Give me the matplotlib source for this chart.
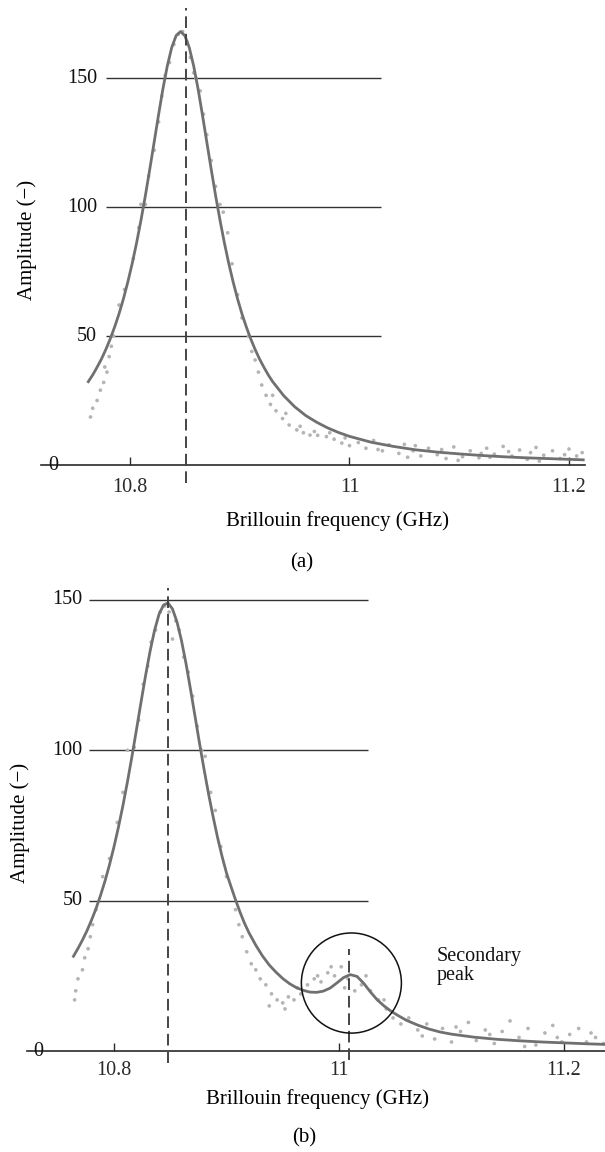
import matplotlib
matplotlib.use("Agg")
import matplotlib.pyplot as plt
from matplotlib.patches import Ellipse

plt.rcParams['font.family'] = ['Liberation Serif', 'DejaVu Serif']

# ---------------- data ----------------
xticks = [10.8, 11.0, 11.2]
xtick_labels = ['10.8', '11', '11.2']
yticks = [50, 100, 150]
ytick_labels = ['50', '100', '150']

# panel (a): fitted curve
fit_a_x = [10.762, 10.766, 10.770, 10.774, 10.778, 10.782, 10.786, 10.790, 10.794, 10.798,
           10.802, 10.806, 10.810, 10.814, 10.818, 10.822, 10.826, 10.830, 10.834, 10.838,
           10.842, 10.846, 10.850, 10.854, 10.858, 10.862, 10.866, 10.870, 10.874, 10.878,
           10.882, 10.886, 10.890, 10.894, 10.898, 10.902, 10.906, 10.910, 10.914, 10.918,
           10.922, 10.926, 10.930, 10.940, 10.950, 10.960, 10.970, 10.980, 10.990, 11.000,
           11.020, 11.040, 11.060, 11.080, 11.100, 11.120, 11.140, 11.160, 11.180, 11.200,
           11.213]
fit_a_y = [32.3, 34.9, 37.9, 41.1, 44.8, 48.9, 53.5, 58.6, 64.4, 70.9,
           78.1, 86.1, 94.9, 104.4, 114.6, 125.1, 135.7, 145.8, 154.7, 161.8,
           166.4, 168.0, 166.4, 161.8, 154.7, 145.8, 135.7, 125.1, 114.6, 104.4,
           94.9, 86.1, 78.1, 70.9, 64.4, 58.6, 53.5, 48.9, 44.8, 41.1,
           37.9, 34.9, 32.3, 26.9, 22.6, 19.2, 16.6, 14.4, 12.6, 11.1,
           8.8, 7.2, 5.9, 5.0, 4.3, 3.7, 3.2, 2.8, 2.5, 2.2,
           2.0]
# panel (a): measured points
dots_a_x = [10.790, 10.795, 10.803, 10.808, 10.810, 10.814, 10.817, 10.822, 10.826, 10.829,
            10.832, 10.836, 10.840, 10.844, 10.848, 10.852, 10.855, 10.858, 10.860, 10.864,
            10.867, 10.870, 10.874, 10.878, 10.882, 10.885, 10.889, 10.893, 10.898, 10.902,
            10.785, 10.783, 10.781, 10.779, 10.777, 10.776, 10.773, 10.770, 10.766, 10.764,
            10.908, 10.911, 10.914, 10.917, 10.920, 10.924, 10.928, 10.933, 10.939, 10.945,
            10.952, 10.958, 10.964, 10.971, 10.979, 10.986, 10.993, 11.000,
            10.930, 10.942, 10.955, 10.968, 10.982, 10.996,
            11.008, 11.015, 11.022, 11.030, 11.036, 11.045, 11.050, 11.058, 11.060, 11.065,
            11.072, 11.080, 11.088, 11.095, 11.103, 11.110, 11.118, 11.120, 11.125, 11.132,
            11.140, 11.148, 11.155, 11.162, 11.165, 11.170, 11.177, 11.185, 11.192, 11.200,
            11.207, 11.212, 11.026, 11.053, 11.084, 11.099, 11.128, 11.145, 11.173, 11.196]
dots_a_y = [62, 68, 80, 92, 101, 101, 112, 122, 133, 143,
            151, 156, 163, 167, 168, 164, 158, 152, 150, 145,
            136, 128, 118, 108, 101, 98, 90, 78, 66, 57,
            50, 46, 42, 36, 38, 32, 29, 25, 22, 18.6,
            50, 44, 40.7, 36, 31, 27, 23.5, 21, 18, 15.5,
            13.6, 12.5, 11.6, 11.5, 11, 10, 8.5, 7.5,
            27, 20, 15, 13, 12.5, 10.5,
            8.7, 6.5, 9.5, 5.5, 7.8, 4.5, 8.0, 5.5, 7.5, 3.5,
            6.5, 4.0, 2.5, 7.0, 3.2, 5.5, 2.8, 4.5, 6.5, 4.2,
            7.2, 3.5, 5.8, 2.2, 4.8, 6.8, 3.8, 5.5, 2.5, 6.2,
            3.5, 4.8, 6.0, 3.0, 6.0, 1.8, 3.0, 5.2, 1.5, 4.0]
peak_a = 10.851

# panel (b): fitted curve
fit_b_x = [10.764, 10.768, 10.772, 10.776, 10.780, 10.784, 10.788, 10.792, 10.796, 10.800,
           10.804, 10.808, 10.812, 10.816, 10.820, 10.824, 10.828, 10.832, 10.836, 10.840,
           10.844, 10.848, 10.852, 10.856, 10.860, 10.864, 10.868, 10.872, 10.876, 10.880,
           10.884, 10.888, 10.892, 10.896, 10.900, 10.904, 10.908, 10.912, 10.916, 10.920,
           10.926, 10.932, 10.938, 10.944, 10.950, 10.956, 10.962, 10.968, 10.974, 10.980,
           10.986, 10.992, 10.998, 11.004, 11.010, 11.016, 11.022, 11.028, 11.034, 11.040,
           11.046, 11.052, 11.060, 11.070, 11.080, 11.090, 11.100, 11.120, 11.140, 11.160,
           11.180, 11.200, 11.220, 11.236]
fit_b_y = [31.5, 34.1, 36.9, 40.0, 43.5, 47.3, 51.7, 56.5, 61.9, 67.9,
           74.5, 81.7, 89.6, 98.0, 106.9, 115.9, 124.7, 132.8, 139.8, 145.2,
           148.3, 149.0, 147.0, 142.7, 136.5, 128.9, 120.3, 111.4, 102.4, 93.8,
           85.6, 78.1, 71.1, 64.8, 59.2, 54.7, 50.3, 46.2, 42.5, 39.3,
           35.2, 31.6, 28.6, 26.2, 24.1, 22.4, 21.1, 20.2, 19.6, 19.5,
           19.9, 20.9, 22.6, 24.4, 25.4, 24.8, 22.5, 19.6, 17.0, 15.0,
           13.3, 11.9, 10.2, 8.6, 7.3, 6.3, 5.6, 4.6, 3.9, 3.4,
           3.0, 2.7, 2.4, 2.2]
# panel (b): measured points
dots_b_x = [10.790, 10.796, 10.803, 10.808, 10.812, 10.818, 10.822, 10.826, 10.830, 10.833,
            10.837, 10.841, 10.845, 10.849, 10.852, 10.855, 10.858, 10.862, 10.866, 10.870,
            10.874, 10.878, 10.881, 10.886, 10.890, 10.895, 10.900,
            10.784, 10.781, 10.779, 10.777, 10.774, 10.772, 10.768, 10.766, 10.765,
            10.908, 10.911, 10.914, 10.918, 10.922, 10.926, 10.930, 10.935, 10.940, 10.945,
            10.950, 10.955, 10.960, 10.966, 10.972, 10.978, 10.984, 10.990, 10.996, 11.002,
            11.008, 11.014, 11.020, 11.028, 11.035, 11.042, 11.048, 11.055,
            10.938, 10.952, 10.963, 10.981, 10.993, 11.005, 11.024, 11.040,
            11.062, 11.070, 11.078, 11.085, 11.092, 11.100, 11.108, 11.115, 11.122, 11.130,
            11.138, 11.145, 11.152, 11.160, 11.168, 11.175, 11.183, 11.190, 11.198, 11.205,
            11.213, 11.220, 11.228, 11.235, 11.074, 11.104, 11.134, 11.165, 11.194, 11.224]
dots_b_y = [58, 64, 76, 86, 100, 101, 110, 122, 128, 136,
            140, 146, 148, 146, 137, 143, 140, 131, 126, 118,
            108, 100, 98, 86, 80, 68, 58,
            47, 42, 38, 34, 31, 27, 24, 20, 17,
            47, 42, 38, 33, 29, 27, 24, 22, 19, 17,
            16, 18, 17, 19, 22, 24, 23, 26, 25, 28,
            24, 20, 22, 20, 17, 14, 11, 9,
            15, 14, 21, 25, 28, 21, 25, 17,
            11, 7, 9, 4, 7.5, 3, 6.5, 9.5, 3.5, 7,
            2.5, 6.5, 10, 4.5, 7.5, 2, 6, 8.5, 3, 5.5,
            7.5, 3, 4.5, 2.5, 5.0, 8.0, 5.5, 1.5, 4.5, 6.0]
peak_b = 10.848
secondary_peak_b = 11.009

# ---------------- layout helpers ----------------
W, H = 605, 1152
fig = plt.figure(figsize=(W / 100, H / 100), dpi=100)

def px_axes(left, right, top, bottom):
    return fig.add_axes([left / W, 1 - bottom / H, (right - left) / W, (bottom - top) / H])

LINE = '#2a2a2a'
FIT = '#707070'
DOT = '#b4b4b4'
FS = 14.5
FS_LAB = 15

def style(ax, xlim, ylim, grid_x0, grid_x1, ylab_x, zero_x, pad):
    ax.set_xlim(*xlim)
    ax.set_ylim(*ylim)
    for s in ['top', 'right', 'left']:
        ax.spines[s].set_visible(False)
    ax.spines['bottom'].set_position(('data', 0))
    ax.spines['bottom'].set_color(LINE)
    ax.spines['bottom'].set_linewidth(1.2)
    ax.set_xticks(xticks)
    ax.set_xticklabels(xtick_labels)
    ax.tick_params(axis='x', direction='in', length=6, width=1.0, pad=pad,
                   labelsize=FS, colors=LINE)
    ax.set_yticks([])
    ax.patch.set_alpha(0)
    ax.hlines(yticks, grid_x0, grid_x1, color='#333333', lw=1.0, zorder=1)
    for yv, lab in zip(yticks, ytick_labels):
        ax.text(ylab_x, yv, lab, ha='right', va='center', fontsize=FS, color='#111111')
    ax.text(zero_x, 0, '0', ha='center', va='center', fontsize=FS, color='#111111',
            zorder=5)

# ---------------- panel (a) ----------------
ax1 = px_axes(41, 585, 465 - 178 * 2.58, 465 + 8 * 2.58)
style(ax1, (10.7189, 11.2146), (-8, 178), 10.778, 11.029, 10.770, 10.730, 9)
ax1.scatter(dots_a_x, dots_a_y, s=7, color=DOT, edgecolors='none', zorder=2)
ax1.plot(fit_a_x, fit_a_y, color=FIT, lw=2.0, zorder=3, solid_joinstyle='round')
ax1.plot([peak_a, peak_a], [-7, 177], color='#444444', lw=1.4, dashes=(6, 3), zorder=4)

fig.text(27 / W, 1 - 240 / H, 'Amplitude (−)', rotation=90, ha='center', va='center',
         fontsize=FS_LAB)
fig.text(338 / W, 1 - 521 / H, 'Brillouin frequency (GHz)', ha='center', va='center',
         fontsize=FS_LAB)
fig.text(302 / W, 1 - 563 / H, '(a)', ha='center', va='center', fontsize=FS_LAB)

# ---------------- panel (b) ----------------
ax2 = px_axes(27, 605, 1051 - 155 * 3.007, 1051 + 5 * 3.007)
style(ax2, (10.7227, 11.2364), (-5, 155), 10.778, 11.026, 10.772, 10.733, 7)
ax2.scatter(dots_b_x, dots_b_y, s=7, color=DOT, edgecolors='none', zorder=2)
ax2.plot(fit_b_x, fit_b_y, color=FIT, lw=2.0, zorder=3, solid_joinstyle='round')
ax2.plot([peak_b, peak_b], [-4, 154], color='#444444', lw=1.4, dashes=(6, 3), zorder=4)
ax2.plot([secondary_peak_b, secondary_peak_b], [-3, 34], color='#444444', lw=1.4,
         dashes=(6, 3), zorder=4)
ax2.add_patch(Ellipse((11.011, 22.6), 0.0889, 33.3, fill=False, edgecolor='#111111',
                      lw=1.1, zorder=5))
ax2.text(11.087, 28.3, 'Secondary\npeak', ha='left', va='center', fontsize=FS,
         linespacing=1.05, color='#111111')

fig.text(20 / W, 1 - 823 / H, 'Amplitude (−)', rotation=90, ha='center', va='center',
         fontsize=FS_LAB)
fig.text(318 / W, 1 - 1099 / H, 'Brillouin frequency (GHz)', ha='center', va='center',
         fontsize=FS_LAB)
fig.text(304 / W, 1 - 1138 / H, '(b)', ha='center', va='center', fontsize=FS_LAB)

fig.savefig('out.png', dpi=100, facecolor='white')
